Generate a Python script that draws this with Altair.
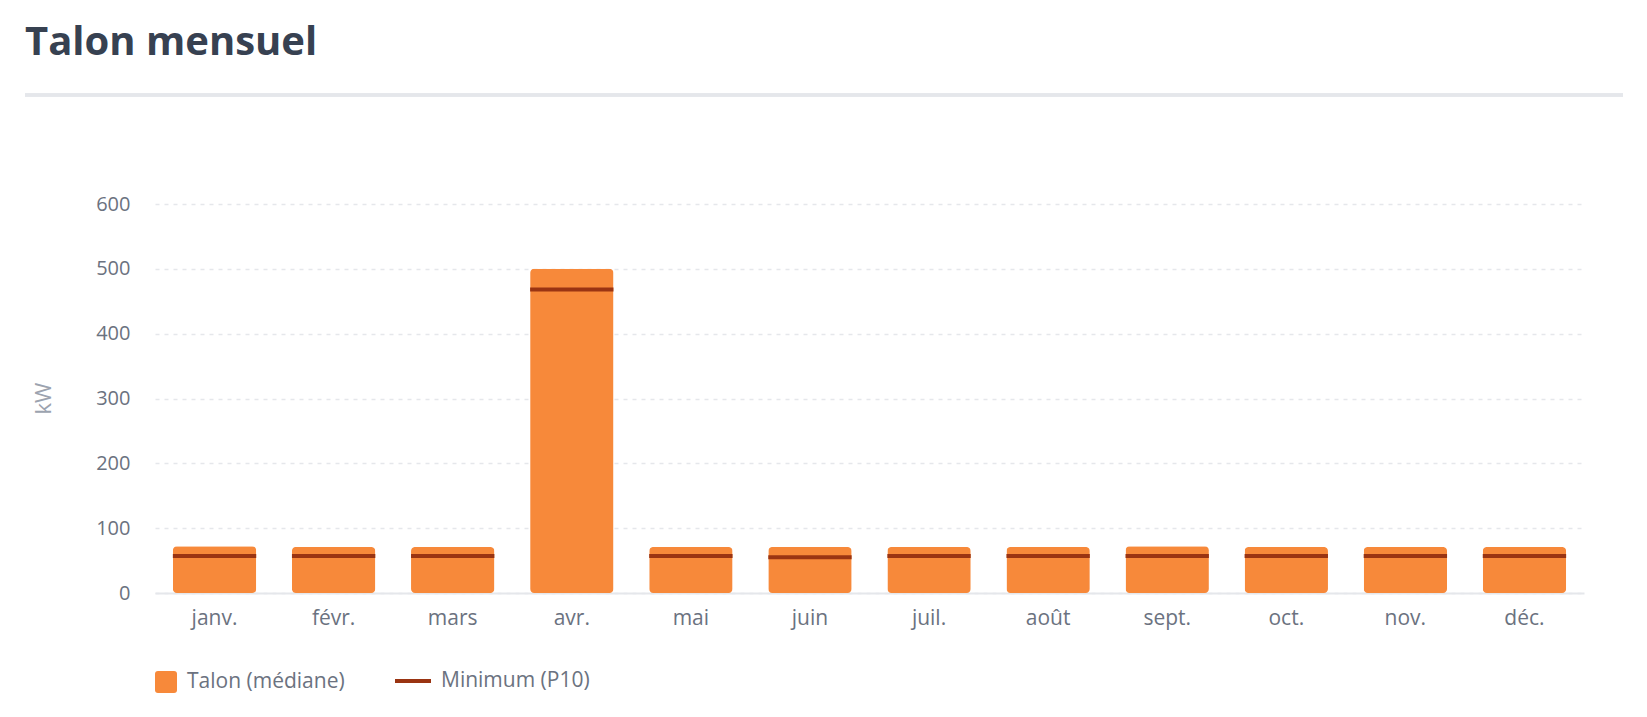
import altair as alt
import pandas as pd

mois = ["janv.", "févr.", "mars", "avr.", "mai", "juin", "juil.", "août", "sept.", "oct.", "nov.", "déc."]
talon_mediane = [72, 71, 71, 500, 71, 71, 71, 71, 72, 71, 71, 71]
minimum_p10 = [57, 57, 57, 468, 57, 55, 57, 57, 57, 57, 57, 57]

serie_bar = "Talon (médiane)"
serie_min = "Minimum (P10)"

df = pd.DataFrame({
    "mois": mois,
    "mediane": talon_mediane,
    "minimum": minimum_p10,
    "s1": [serie_bar] * len(mois),
    "s2": [serie_min] * len(mois),
})

FONT = "Open Sans"
ORANGE = "#F7893A"
BROWN = "#9A3412"
LABEL = "#6B7280"
GRID = "#E5E7EB"

x_enc = alt.X(
    "mois:N",
    sort=mois,
    scale=alt.Scale(paddingInner=0.3, paddingOuter=0.15),
    axis=alt.Axis(
        title=None, labelAngle=0, ticks=False, labelPadding=14,
        labelFontSize=21, labelColor=LABEL, labelFont=FONT,
        domainColor=GRID, domainWidth=2, grid=False,
    ),
)

y_enc = alt.Y(
    "mediane:Q",
    scale=alt.Scale(domain=[0, 600], nice=False),
    axis=alt.Axis(
        title="kW", values=[0, 100, 200, 300, 400, 500, 600],
        domain=False, ticks=False, labelPadding=25,
        labelFontSize=20, labelColor=LABEL, labelFont=FONT,
        grid=True, gridColor=GRID, gridDash=[4, 5], gridWidth=1.5,
        titleFont=FONT, titleFontSize=22, titleFontWeight="normal",
        titleColor="#9CA3AF", titleX=-112, titleY=194, titleAngle=-90,
        titleBaseline="middle", titleAlign="center",
    ),
)

round_square = ("M-0.73,-1 L0.73,-1 Q1,-1 1,-0.73 L1,0.73 Q1,1 0.73,1 "
                "L-0.73,1 Q-1,1 -1,0.73 L-1,-0.73 Q-1,-1 -0.73,-1 Z")

bars = alt.Chart(df).mark_bar(cornerRadius=4).encode(
    x=x_enc,
    y=y_enc,
    fill=alt.Fill(
        "s1:N",
        scale=alt.Scale(domain=[serie_bar], range=[ORANGE]),
        legend=alt.Legend(
            title=None, orient="none", legendX=0, legendY=467,
            symbolType=round_square, symbolSize=484, symbolStrokeWidth=0,
            labelFontSize=21, labelColor=LABEL, labelFont=FONT,
            labelOffset=10, padding=0,
        ),
    ),
)

rules = alt.Chart(df).mark_rule(strokeWidth=4).encode(
    x=alt.X("mois:N", sort=mois, bandPosition=0),
    x2=alt.X2("mois", bandPosition=1),
    y=alt.Y("minimum:Q"),
    stroke=alt.Stroke(
        "s2:N",
        scale=alt.Scale(domain=[serie_min], range=[BROWN]),
        legend=alt.Legend(
            title=None, orient="none", legendX=238, legendY=457,
            symbolType="stroke", symbolSize=1296, symbolStrokeWidth=4,
            labelFontSize=21, labelColor=LABEL, labelFont=FONT,
            labelOffset=8, padding=0,
        ),
    ),
)

separator = alt.Chart(df).mark_rule(color=GRID, strokeWidth=3).encode(
    x=alt.value(-130), x2=alt.value(1468), y=alt.value(-109)
)

chart = alt.layer(bars, rules, separator).resolve_scale(
    fill="independent", stroke="independent"
).properties(
    width=1429,
    height=389,
    background="white",
    title=alt.TitleParams(
        "Talon mensuel", anchor="start", frame="group", dx=-130, dy=1,
        offset=0, baseline="alphabetic", font=FONT, fontSize=40,
        fontWeight="bold", color="#374151",
    ),
    autosize=alt.AutoSizeParams(type="none"),
    padding={"left": 155, "top": 204, "right": 63, "bottom": 124},
).configure_view(strokeWidth=0, stroke="transparent")

chart.save("out.html", embed_options={"renderer": "svg", "actions": False})
